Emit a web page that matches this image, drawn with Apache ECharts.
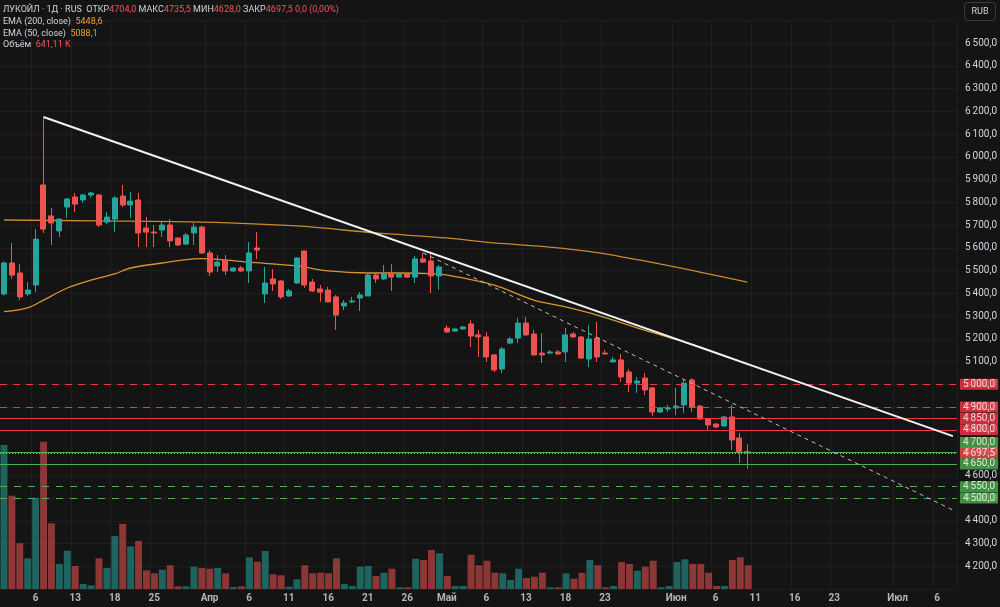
<!DOCTYPE html>
<html lang="ru">
<head>
<meta charset="UTF-8">
<title>ЛУКОЙЛ · 1Д</title>
<style>html,body{margin:0;padding:0;background:#141414;}</style>
</head>
<body>
<div id="main" style="width:1000px;height:607px;"></div>
<script src="https://cdn.jsdelivr.net/npm/echarts@6/dist/echarts.min.js"></script>
<script>
// daily candles
var opens = [5397,5533,5489,5397,5436,5876,5740,5674,5779,5823,5810,5832,5832,5713,5726,5827,5788,5810,5687,5669,
    5678,5700,5643,5616,5665,5691,5577,5520,5546,5498,5511,5498,5599,5397,5463,5454,5388,5445,5586,5449,
    5419,5414,5384,5344,5362,5379,5388,5480,5463,5489,5471,5485,5471,5551,5542,5476,5247,5234,5243,5265,
    5217,5208,5129,5067,5181,5203,5269,5221,5137,5137,5142,5142,5221,5208,5111,5203,5137,5098,5107,5054,
    5005,5027,4984,4878,4891,4896,4909,5019,4904,4847,4825,4817,4856,4764,4704];
var highs = [5540,5621,5529,5449,5682,6175,5775,5730,5819,5841,5836,5845,5836,5757,5827,5876,5845,5841,5735,5700,
    5713,5726,5645,5665,5709,5696,5590,5568,5568,5515,5520,5625,5669,5515,5506,5458,5419,5559,5586,5463,
    5436,5428,5392,5370,5384,5405,5489,5485,5524,5529,5489,5489,5564,5577,5577,5524,5260,5247,5256,5282,
    5239,5230,5133,5164,5208,5291,5296,5239,5225,5151,5151,5247,5230,5212,5260,5274,5151,5120,5133,5067,
    5032,5049,4988,4900,4909,4984,5019,5027,4909,4852,4830,4860,4909,4786,4735.5];
var lows = [5390,5463,5370,5388,5405,5665,5612,5647,5731,5757,5797,5819,5691,5704,5669,5779,5731,5603,5603,5603,
    5647,5603,5608,5612,5612,5573,5476,5493,5480,5493,5493,5445,5551,5357,5410,5375,5384,5441,5423,5405,
    5362,5360,5239,5326,5357,5322,5388,5445,5458,5410,5471,5467,5445,5533,5401,5414,5225,5230,5239,5164,
    5120,5098,5054,5049,5177,5181,5212,5124,5093,5133,5129,5098,5203,5111,5076,5098,5129,5098,5010,4966,
    4962,4953,4860,4874,4878,4865,4874,4878,4843,4799,4808,4812,4711,4654,4628];
var closes = [5533,5480,5384,5414,5638,5682,5709,5726,5814,5792,5832,5841,5700,5735,5819,5788,5805,5665,5669,5665,
    5700,5630,5612,5656,5691,5577,5493,5537,5498,5511,5498,5577,5590,5445,5441,5384,5410,5555,5436,5410,
    5405,5362,5304,5357,5366,5392,5480,5463,5485,5471,5485,5471,5551,5537,5476,5515,5230,5243,5252,5212,
    5208,5120,5063,5155,5199,5269,5217,5129,5129,5142,5133,5217,5208,5115,5199,5120,5133,5107,5032,5005,
    5014,4975,4878,4896,4896,4904,5005,4900,4847,4821,4812,4856,4755,4704,4697.5];
// volume, thousands
var volumes = [3888,2519,1234,829,2465,3977,1774,675,1034,621,135,100,829,567,1431,1755,1153,1296,505,424,
    521,640,73,73,602,567,548,567,424,54,73,856,737,1026,397,370,62,262,640,424,
    440,424,829,135,81,602,621,351,440,548,46,46,818,783,1053,964,351,81,81,926,
    640,764,440,424,243,548,297,332,440,46,46,424,278,440,783,640,46,81,729,675,
    494,602,764,46,81,729,802,675,675,440,81,81,783,856,641.11];

// moving averages, [bar, value]
var ema200 = [[0,5722],[12,5718],[25,5713],[37,5696],[47,5665],[56,5643],[62,5621],[69,5603],[75,5579],[81,5542],[88,5493],[94,5448.6]];
var ema50 = [[0,5319],[3,5336],[5,5370],[8,5423],[11,5458],[14,5485],[16,5511],[20,5533],[23,5548],[25,5552],[27,5549],
    [31,5537],[37,5520],[41,5498],[46,5489],[50,5489],[54,5486],[56,5480],[62,5436],[67,5370],[71,5340],[75,5304],
    [81,5238],[88,5164],[94,5088.1]];

// drawn trend lines, [bar, price]
var trendMain = [[5,6175],[120,4772]];
var trendDashed = [[53,5577],[120,4447]];

// horizontal levels
var resistDashed = [5000,4900];
var resistSolid = [4850,4800];
var supportSolid = [4700,4650];
var supportDashed = [4550,4500];

// time axis
var slotCount = 121;
var tickIdx = [4,9,14,19,26,31,36,41,46,51,56,61,66,71,76,85,90,95,100,105,113,118];
var tickText = ['6','13','18','25','Апр','6','11','16','21','26','Май','6','13','18','23','Июн','6','11','16','23','Июл','6'];

var UP = '#26a69a', DOWN = '#ef5350';
var RED = '#f23645', GREEN = '#4caf50';
var FONT = 'Roboto, "Noto Sans", sans-serif';

var slots = [];
for (var i = 0; i < slotCount; i++) slots.push(String(i));

var candles = opens.map(function (o, i) { return [o, closes[i], lows[i], highs[i]]; });
var volData = volumes.map(function (v, i) {
    return { value: v, itemStyle: { color: closes[i] >= opens[i] ? 'rgba(38,166,154,0.55)' : 'rgba(239,83,80,0.55)' } };
});

function fmtP(v) {
    var p = v.toFixed(1).split('.');
    return p[0].replace(/\B(?=(\d{3})+$)/g, '\u2009') + ',' + p[1];
}
function fmtL(v) { return v.toFixed(1).replace('.', ','); }

var levelLines = [];
resistDashed.forEach(function (v) { levelLines.push({ yAxis: v, lineStyle: { color: RED, type: [7, 6], width: 1 } }); });
resistSolid.forEach(function (v) { levelLines.push({ yAxis: v, lineStyle: { color: RED, type: 'solid', width: 1 } }); });
supportSolid.forEach(function (v) { levelLines.push({ yAxis: v, lineStyle: { color: GREEN, type: 'solid', width: 1 } }); });
supportDashed.forEach(function (v) { levelLines.push({ yAxis: v, lineStyle: { color: GREEN, type: [7, 7], width: 1 } }); });
var last = closes.length - 1;
levelLines.push({ yAxis: closes[last], lineStyle: { color: '#9ccc65', type: [1, 2], width: 1 } });

function tag(v, bg, off) {
    return {
        value: [slotCount - 1, v],
        label: { backgroundColor: bg, offset: off || [0, 0] }
    };
}
var tags = [];
resistDashed.concat(resistSolid).forEach(function (v) { tags.push(tag(v, RED)); });
tags.push(tag(supportSolid[0], GREEN, [0, -10]));
tags.push(tag(closes[last], DOWN));
tags.push(tag(supportSolid[1], GREEN));
supportDashed.forEach(function (v) { tags.push(tag(v, GREEN)); });

var legendRich = {
    w: { fill: '#d1d4dc', fontSize: 9, fontFamily: FONT, lineHeight: 11 },
    r: { fill: '#f7525f', fontSize: 9, fontFamily: FONT, lineHeight: 11 },
    o: { fill: '#f0a030', fontSize: 9, fontFamily: FONT, lineHeight: 11 }
};

var chart = echarts.init(document.getElementById('main'));
chart.setOption({
    backgroundColor: '#141414',
    animation: false,
    textStyle: { fontFamily: FONT },
    grid: [
        { left: 0, right: 42, top: 20.25, height: 568.75 },
        { left: 0, right: 42, top: 409, height: 180 }
    ],
    xAxis: [
        {
            type: 'category', data: slots, gridIndex: 0, boundaryGap: true,
            axisLine: { show: false }, axisTick: { show: false },
            axisLabel: {
                interval: 0, margin: 4, color: '#b2b5be', fontSize: 10, fontWeight: 'bold',
                formatter: function (val, idx) {
                    var k = tickIdx.indexOf(idx);
                    return k >= 0 ? tickText[k] : '';
                }
            },
            splitLine: {
                show: true,
                interval: function (idx) { return tickIdx.indexOf(idx) >= 0; },
                lineStyle: { color: '#1f1f1f', width: 1 }
            }
        },
        {
            type: 'category', data: slots, gridIndex: 1, boundaryGap: true, show: false
        }
    ],
    yAxis: [
        {
            type: 'value', gridIndex: 0, position: 'right', min: 4100, max: 6600, interval: 100,
            axisLine: { show: false }, axisTick: { show: false },
            axisLabel: {
                margin: 8, color: '#d1d4dc', fontSize: 10,
                formatter: function (v) { return (v > 6500 || v < 4200) ? '' : fmtP(v); }
            },
            splitLine: { lineStyle: { color: '#1f1f1f', width: 1 } }
        },
        {
            type: 'value', gridIndex: 1, min: 0, max: 4860, show: false, splitLine: { show: false }
        }
    ],
    series: [
        {
            name: 'Объём', type: 'bar', xAxisIndex: 1, yAxisIndex: 1,
            barCategoryGap: '12%', data: volData, z: 1, silent: true
        },
        {
            name: 'ЛУКОЙЛ', type: 'candlestick', xAxisIndex: 0, yAxisIndex: 0,
            barWidth: 5.5, data: candles, z: 4,
            itemStyle: { color: UP, color0: DOWN, borderColor: UP, borderColor0: DOWN, borderWidth: 1 },
            markLine: {
                silent: true, symbol: ['none', 'none'], label: { show: false },
                data: levelLines
            }
        },
        {
            name: 'EMA 200', type: 'line', data: ema200, showSymbol: false, smooth: 0.3, z: 3,
            lineStyle: { color: '#c88a2c', width: 1.3 }
        },
        {
            name: 'EMA 50', type: 'line', data: ema50, showSymbol: false, smooth: 0.3, z: 3,
            lineStyle: { color: '#d9952e', width: 1.3 }
        },
        {
            name: 'trend', type: 'line', data: trendMain, showSymbol: false, z: 5,
            lineStyle: { color: '#f2f2f2', width: 2 }
        },
        {
            name: 'trend2', type: 'line', data: trendDashed, showSymbol: false, z: 5,
            lineStyle: { color: '#bdbdbd', width: 1, type: [4, 4] }
        },
        {
            name: 'tags', type: 'scatter', data: tags, symbolSize: 0, z: 10, silent: true,
            label: {
                show: true, position: 'right', distance: 7,
                formatter: function (p) { return fmtP(p.value[1]); },
                color: '#ffffff', fontSize: 10, padding: [1, 3, 0, 3], lineHeight: 10
            }
        }
    ],
    graphic: [
        {
            type: 'text', left: 3, top: 5, z: 100,
            style: {
                text: '{w|ЛУКОЙЛ · 1Д · RUS  ОТКР}{r|' + fmtL(opens[last]) + '}{w| МАКС}{r|' + fmtL(highs[last]) +
                    '}{w| МИН}{r|' + fmtL(lows[last]) + '}{w| ЗАКР}{r|' + fmtL(closes[last]) + ' 0,0 (0,00%)}',
                rich: legendRich
            }
        },
        {
            type: 'text', left: 3, top: 17, z: 100,
            style: {
                text: '{w|EMA (200, close)  }{o|' + fmtL(ema200[ema200.length - 1][1]) + '}',
                rich: legendRich
            }
        },
        {
            type: 'text', left: 3, top: 29, z: 100,
            style: {
                text: '{w|EMA (50, close)  }{o|' + fmtL(ema50[ema50.length - 1][1]) + '}',
                rich: legendRich
            }
        },
        {
            type: 'text', left: 3, top: 40, z: 100,
            style: {
                text: '{w|Объём  }{r|' + volumes[last].toFixed(2).replace('.', ',') + ' K}',
                rich: legendRich
            }
        },
        {
            type: 'group', right: 4, top: 2, z: 100,
            children: [
                { type: 'rect', shape: { x: 0, y: 0, width: 31, height: 18, r: 3 },
                  style: { fill: '#141414', stroke: '#3a3a3a', lineWidth: 1 } },
                { type: 'text', x: 15.5, y: 9,
                  style: { text: 'RUB', fill: '#d1d4dc', fontSize: 9, fontFamily: FONT, align: 'center', verticalAlign: 'middle' } }
            ]
        }
    ]
});
</script>
</body>
</html>
